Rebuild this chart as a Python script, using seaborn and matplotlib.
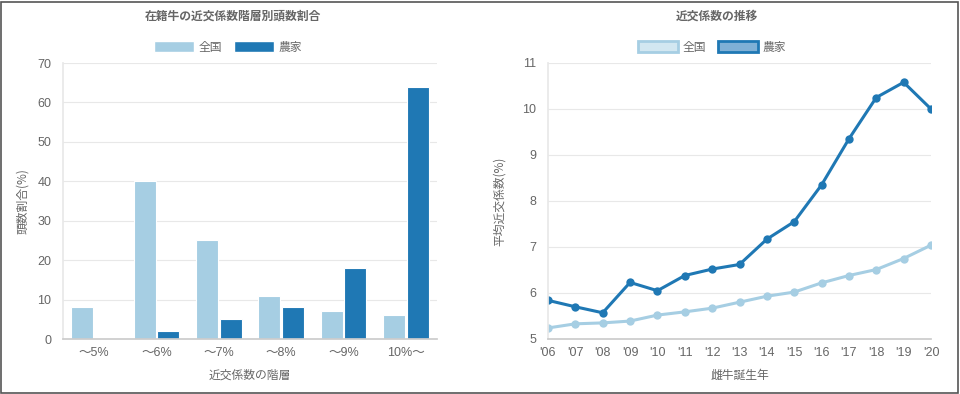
import pandas as pd
import seaborn as sns
import matplotlib.pyplot as plt
from matplotlib.patches import Rectangle, Patch

# data
classes = ['～5%', '～6%', '～7%', '～8%', '～9%', '10%～']
share_all = [8, 40, 25, 11, 7, 6]
share_farm = [0, 2, 5, 8, 18, 64]

years = list(range(2006, 2021))
year_labels = ["'06", "'07", "'08", "'09", "'10", "'11", "'12", "'13", "'14", "'15", "'16", "'17", "'18", "'19", "'20"]
coef_all = [5.24, 5.33, 5.35, 5.39, 5.52, 5.59, 5.67, 5.80, 5.93, 6.02, 6.22, 6.38, 6.51, 6.75, 7.04]
coef_farm = [5.84, 5.70, 5.57, 6.23, 6.05, 6.38, 6.52, 6.62, 7.17, 7.55, 8.35, 9.35, 10.25, 10.58, 10.0]

light = '#a6cee3'
dark = '#1f78b4'
txt = '#666666'
grid = '#e8e8e8'

sns.set_theme(style='white')
plt.rcParams['font.family'] = ['Noto Sans CJK JP', 'DejaVu Sans']
plt.rcParams['text.color'] = txt

bars = pd.DataFrame({
    'cls': classes * 2,
    'val': share_all + share_farm,
    'grp': ['全国'] * len(classes) + ['農家'] * len(classes),
})
lines = pd.DataFrame({
    'year': years * 2,
    'val': coef_all + coef_farm,
    'grp': ['全国'] * len(years) + ['農家'] * len(years),
})

fig = plt.figure(figsize=(9.6, 3.94), dpi=100)
ax1 = fig.add_axes([63 / 960, 1 - 339 / 394, 374 / 960, 276 / 394])
ax2 = fig.add_axes([548 / 960, 1 - 339 / 394, 383 / 960, 276 / 394])

sns.barplot(data=bars, x='cls', y='val', hue='grp', palette=[light, dark], saturation=1,
            width=0.76, gap=0.06, edgecolor='white', linewidth=0.8, ax=ax1, legend=False)
ax1.set_ylim(0, 70)
ax1.set_yticks(range(0, 71, 10))
ax1.set_xlim(-0.5, 5.5)
ax1.set_xlabel('近交係数の階層', fontsize=8.5, color=txt, labelpad=7)
ax1.set_ylabel('頭数割合(%)', fontsize=8.5, color=txt, labelpad=6)

sns.lineplot(data=lines, x='year', y='val', hue='grp', palette=[light, dark],
             marker='o', markersize=6, markeredgewidth=0, linewidth=2.2,
             ax=ax2, legend=False)
ax2.set_ylim(5, 11)
ax2.set_xlim(2006, 2020)
ax2.set_xticks(years)
ax2.set_xticklabels(year_labels)
ax2.set_xlabel('雌牛誕生年', fontsize=8.5, color=txt, labelpad=7)
ax2.set_ylabel('平均近交係数(%)', fontsize=8.5, color=txt, labelpad=12)

for ax in (ax1, ax2):
    for s in ('top', 'right'):
        ax.spines[s].set_visible(False)
    ax.spines['left'].set_color(grid)
    ax.spines['bottom'].set_color('#cccccc')
    ax.grid(axis='y', color=grid, linewidth=0.8)
    ax.set_axisbelow(True)
    ax.tick_params(axis='y', colors=txt, labelsize=9, length=5, color=grid)
    ax.tick_params(axis='x', colors=txt, labelsize=9, length=0, pad=6)
    for lab in ax.get_xticklabels() + ax.get_yticklabels():
        lab.set_fontfamily(['Liberation Sans', 'Noto Sans CJK JP'])

fig.text(233 / 960, 1 - 16 / 394, '在籍牛の近交係数階層別頭数割合', ha='center', va='center',
         fontsize=8.5, fontweight='bold', color=txt)
fig.text(717 / 960, 1 - 16 / 394, '近交係数の推移', ha='center', va='center',
         fontsize=8.5, fontweight='bold', color=txt)

h1 = [Patch(facecolor=light, edgecolor='white', label='全国'),
      Patch(facecolor=dark, edgecolor='white', label='農家')]
fig.legend(handles=h1, loc='center', bbox_to_anchor=(228 / 960, 1 - 47 / 394), ncol=2,
           frameon=False, fontsize=8.5, handlelength=3.4, handleheight=1.0,
           columnspacing=1.0, handletextpad=0.4, labelcolor=txt)
h2 = [Patch(facecolor='#d2e7f1', edgecolor=light, linewidth=2, label='全国'),
      Patch(facecolor='#7fb0d6', edgecolor=dark, linewidth=2, label='農家')]
fig.legend(handles=h2, loc='center', bbox_to_anchor=(712 / 960, 1 - 47 / 394), ncol=2,
           frameon=False, fontsize=8.5, handlelength=3.4, handleheight=1.0,
           columnspacing=1.0, handletextpad=0.4, labelcolor=txt)

fig.patches.append(Rectangle((1 / 960, 1 / 394), 957 / 960, 391 / 394, transform=fig.transFigure,
                             fill=False, edgecolor='#555555', linewidth=1.2))

fig.savefig('out.png', dpi=100)
